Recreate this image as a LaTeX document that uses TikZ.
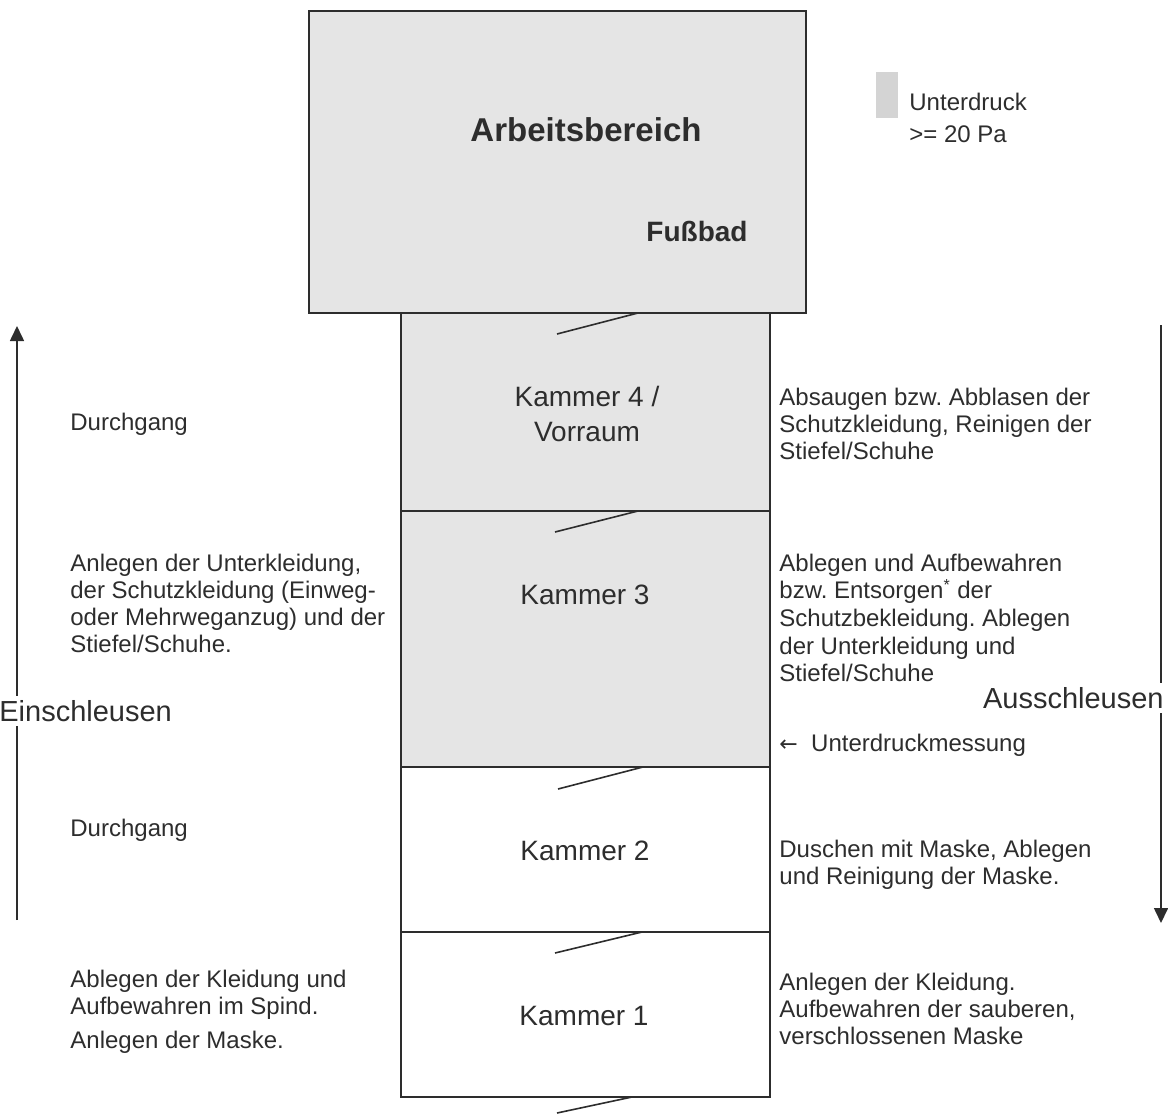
\documentclass[tikz,border=0pt]{standalone}
\usepackage{fontspec}
\setmainfont{Liberation Sans}
\newfontfamily\arrowfont{DejaVu Sans}
\usetikzlibrary{arrows.meta}
\definecolor{roomgray}{RGB}{229,229,229}
\definecolor{legendgray}{RGB}{212,212,212}
\definecolor{ink}{RGB}{45,45,45}
\frenchspacing
\begin{document}
\begin{tikzpicture}[x=0.5pt,y=-0.5pt,
  wall/.style={draw=ink,line width=0.75pt},
  doorline/.style={draw=ink,line width=0.8pt},
  txt/.style={inner sep=0pt,align=left,anchor=west,text=ink,font=\fontsize{12}{13.5}\selectfont\frenchspacing},
  roomlabel/.style={inner sep=0pt,align=center,text=ink,font=\fontsize{14}{17.5}\selectfont},
  flow/.style={draw=ink,line width=0.8pt,-{Triangle[length=7.5pt,width=7pt]}},
  biglabel/.style={inner sep=1pt,fill=white,text=ink,font=\fontsize{14.5}{17}\selectfont}
]
\useasboundingbox (0,0) rectangle (1168,1115);
% rooms
\fill[roomgray] (309,11) rectangle (806,313);
\fill[roomgray] (401,313) rectangle (770,767);
\draw[wall] (309,11) rectangle (806,313);
\draw[wall] (401,313) rectangle (770,1097);
\draw[wall] (401,511) -- (770,511);
\draw[wall] (401,767) -- (770,767);
\draw[wall] (401,932) -- (770,932);
% doors
\draw[doorline] (557,334) -- (638,313);
\draw[doorline] (555,532) -- (638,511);
\draw[doorline] (558,789) -- (643,767);
\draw[doorline] (555,953) -- (642,932);
\draw[doorline] (557,1113) -- (632,1097);
% legend
\fill[legendgray] (876,72) rectangle (898,118);
\node[txt] (leg1) at (909,102) {Unterdruck};
\node[txt] (leg2) at (909,134) {>= 20 Pa};
% room labels
\node[inner sep=0pt,text=ink,font=\fontsize{16.5}{20}\selectfont\bfseries] (ab) at (586,130) {Arbeitsbereich};
\node[inner sep=0pt,text=ink,font=\fontsize{14}{17}\selectfont\bfseries] (fb) at (697,231) {Fußbad};
\node[roomlabel] (k4) at (587,414) {Kammer 4 /\\Vorraum};
\node[roomlabel] (k3) at (585,595) {Kammer 3};
\node[roomlabel] (k2) at (585,851) {Kammer 2};
\node[roomlabel] (k1) at (584,1016) {Kammer 1};
% left texts
\node[txt] (l1) at (70,424) {Durchgang};
\node[txt] (l2) at (70,603) {Anlegen der Unterkleidung,\\der Schutzkleidung (Einweg-\\oder Mehrweganzug) und der\\Stiefel/Schuhe.};
\node[txt] (l3) at (70,830) {Durchgang};
\node[txt] (l4) at (70,995) {Ablegen der Kleidung und\\Aufbewahren im Spind.};
\node[txt] (l5) at (70,1042) {Anlegen der Maske.};
% right texts
\node[txt] (r1) at (779,424) {Absaugen bzw. Abblasen der\\Schutzkleidung, Reinigen der\\Stiefel/Schuhe};
\node[txt,font=\fontsize{12}{13.8}\selectfont\frenchspacing] (r2) at (779,618) {Ablegen und Aufbewahren\\bzw. Entsorgen\textsuperscript{*} der\\Schutzbekleidung. Ablegen\\der Unterkleidung und\\Stiefel/Schuhe};
\node[txt] (r3) at (779,745) {{\arrowfont\fontsize{11}{13}\selectfont ←}\ \ Unterdruckmessung};
\node[txt] (r4) at (779,865) {Duschen mit Maske, Ablegen\\und Reinigung der Maske.};
\node[txt] (r5) at (779,1009) {Anlegen der Kleidung.\\Aufbewahren der sauberen,\\verschlossenen Maske};
% flow arrows
\coordinate (einS) at (17,920);
\coordinate (einE) at (17,326);
\coordinate (ausS) at (1161,325);
\coordinate (ausE) at (1161,923);
\draw[flow] (einS) -- (einE);
\draw[flow] (ausS) -- (ausE);
\node[biglabel,anchor=west,inner sep=2pt] (ein) at (-5,711) {Einschleusen};
\node[biglabel,anchor=east,inner sep=2pt] (aus) at (1168,698) {Ausschleusen};
\end{tikzpicture}
\end{document}
